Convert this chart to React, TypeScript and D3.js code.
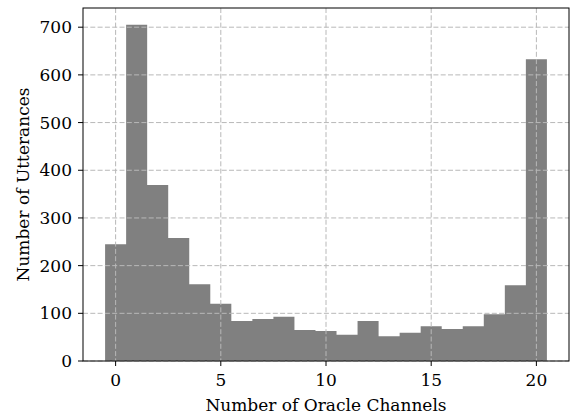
import React from "react";
import * as d3 from "d3";

// Histogram: number of utterances by count of oracle channels
const channels = [0, 1, 2, 3, 4, 5, 6, 7, 8, 9, 10, 11, 12, 13, 14, 15, 16, 17, 18, 19, 20];
const utterances = [245, 705, 369, 258, 161, 120, 84, 88, 93, 65, 63, 55, 84, 52, 59, 73, 67, 73, 98, 159, 633];
const xTicks = [0, 5, 10, 15, 20];
const yTicks = [0, 100, 200, 300, 400, 500, 600, 700];

const W = 575;
const H = 419;
const margin = { left: 83, top: 8, right: 6, bottom: 58 };
const FONT = "'DejaVu Serif', serif";
const FS = 17;

export default function App() {
  const innerW = W - margin.left - margin.right;
  const innerH = H - margin.top - margin.bottom;
  const x = d3.scaleLinear().domain([-1.55, 21.55]).range([0, innerW]);
  const y = d3.scaleLinear().domain([0, 740.25]).range([innerH, 0]);
  const grid = "#b8b8b8";

  // Outline of the stepped histogram, drawn as one path so bins join without seams
  const pts: [number, number][] = [[x(channels[0] - 0.5), y(0)]];
  channels.forEach((c, i) => {
    pts.push([x(c - 0.5), y(utterances[i])]);
    pts.push([x(c + 0.5), y(utterances[i])]);
  });
  pts.push([x(channels[channels.length - 1] + 0.5), y(0)]);
  const histPath = d3.line()(pts) + "Z";

  return (
    <svg width={W} height={H} style={{ position: "absolute", left: 0, top: 0, background: "#fff" }}>
      <g transform={`translate(${margin.left},${margin.top})`}>
        <path d={histPath} fill="#808080" />
        {xTicks.map((t) => (
          <line key={"gx" + t} x1={x(t)} x2={x(t)} y1={0} y2={innerH} stroke={grid} strokeWidth={1} strokeDasharray="5,2.3" />
        ))}
        {yTicks.map((t) => (
          <line key={"gy" + t} x1={0} x2={innerW} y1={y(t)} y2={y(t)} stroke={grid} strokeWidth={1} strokeDasharray="5,2.3" />
        ))}
        <rect x={0} y={0} width={innerW} height={innerH} fill="none" stroke="#000" strokeWidth={1} />
        {xTicks.map((t) => (
          <g key={"tx" + t} transform={`translate(${x(t)},${innerH})`}>
            <line y1={0} y2={5} stroke="#000" />
            <text y={25} textAnchor="middle" fontFamily={FONT} fontSize={FS} fill="#000">
              {t}
            </text>
          </g>
        ))}
        {yTicks.map((t) => (
          <g key={"ty" + t} transform={`translate(0,${y(t)})`}>
            <line x1={-5} x2={0} stroke="#000" />
            <text x={-11} dy="0.35em" textAnchor="end" fontFamily={FONT} fontSize={FS} fill="#000">
              {t}
            </text>
          </g>
        ))}
        <text x={innerW / 2} y={innerH + 50} textAnchor="middle" fontFamily={FONT} fontSize={FS} fill="#000">
          Number of Oracle Channels
        </text>
        <text
          transform={`translate(${-54},${innerH / 2}) rotate(-90)`}
          textAnchor="middle"
          fontFamily={FONT}
          fontSize={FS}
          fill="#000"
        >
          Number of Utterances
        </text>
      </g>
    </svg>
  );
}
